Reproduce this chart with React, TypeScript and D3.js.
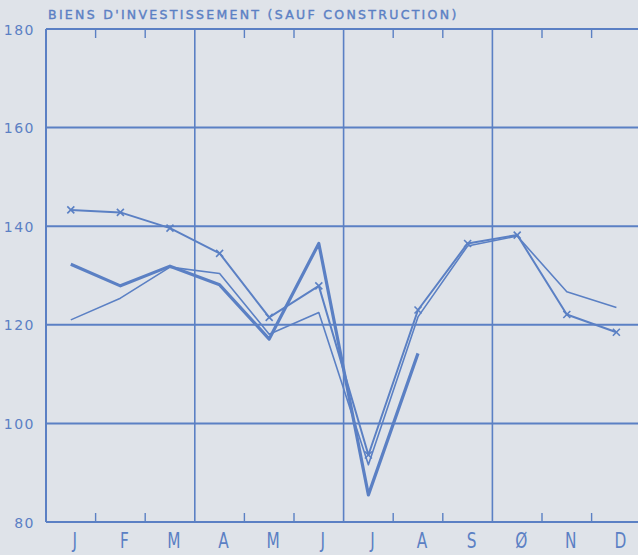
import React from "react";
import * as d3 from "d3";

const months = ["J", "F", "M", "A", "M", "J", "J", "A", "S", "Ø", "N", "D"];
const yTicks = [80, 100, 120, 140, 160, 180];
const seriesCross = [143.3, 142.8, 139.6, 134.5, 121.5, 127.9, 93.6, 123, 136.5, 138.2, 122.1, 118.5];
const seriesThick = [132.3, 127.9, 131.9, 128.1, 117.1, 136.5, 85.5, 114.2];
const seriesThin = [121, 125.4, 131.7, 130.4, 118.1, 122.5, 91.6, 121.6, 136, 138, 126.7, 123.5];
const title = "BIENS D'INVESTISSEMENT (SAUF CONSTRUCTION)";

const W = 638;
const H = 555;
const left = 46;
const top = 29;
const bottom = 522;
const monthW = 49.6;
const color = "#5b80c4";

export default function App() {
  const x = d3.scaleLinear().domain([0, 12]).range([left, left + 12 * monthW]);
  const y = d3.scaleLinear().domain([80, 180]).range([bottom, top]);
  const line = d3
    .line<number>()
    .x((_, i) => x(i + 0.5))
    .y((d) => y(d));

  const boundaries = d3.range(1, 12);
  const font = "'DejaVu Sans', sans-serif";

  return (
    <svg
      width={W}
      height={H}
      style={{ position: "absolute", left: 0, top: 0, background: "#dfe3e9" }}
    >
      <rect width={W} height={H} fill="#dfe3e9" />
      <text
        x={48}
        y={19}
        fill={color}
        stroke={color}
        strokeWidth={0.4}
        fontFamily={font}
        fontSize={12.5}
        letterSpacing={2.3}
      >
        {title}
      </text>
      {/* horizontal grid */}
      {yTicks.map((t) => (
        <line key={t} x1={left} x2={W} y1={y(t)} y2={y(t)} stroke={color} strokeWidth={2} />
      ))}
      {/* left axis */}
      <line x1={left} x2={left} y1={top} y2={bottom} stroke={color} strokeWidth={2} />
      {/* vertical quarter lines and ticks */}
      {boundaries.map((b) =>
        b % 3 === 0 ? (
          <line key={b} x1={x(b)} x2={x(b)} y1={top} y2={bottom} stroke={color} strokeWidth={1.6} />
        ) : (
          <g key={b}>
            <line x1={x(b)} x2={x(b)} y1={top} y2={top + 9} stroke={color} strokeWidth={1.4} />
            <line x1={x(b)} x2={x(b)} y1={bottom} y2={bottom - 9} stroke={color} strokeWidth={1.4} />
          </g>
        )
      )}
      {/* y labels */}
      {yTicks.map((t) => (
        <text
          key={t}
          x={35}
          y={y(t) + 5.5}
          textAnchor="end"
          fill={color}
          fontFamily={font}
          fontSize={14}
          letterSpacing={1.5}
        >
          {t}
        </text>
      ))}
      {/* month labels */}
      {months.map((m, i) => {
        const cx = x(i + 0.5) + 4;
        return (
          <text
            key={i}
            x={cx}
            y={548}
            textAnchor="middle"
            fill={color}
            fontFamily={font}
            fontSize={20.5}
            transform={`translate(${cx},0) scale(0.75,1) translate(${-cx},0)`}
          >
            {m}
          </text>
        );
      })}
      {/* series */}
      <path d={line(seriesThin) || ""} fill="none" stroke={color} strokeWidth={1.6} strokeLinejoin="round" />
      <path d={line(seriesThick) || ""} fill="none" stroke={color} strokeWidth={3.2} strokeLinejoin="round" />
      <path d={line(seriesCross) || ""} fill="none" stroke={color} strokeWidth={2} strokeLinejoin="round" />
      {seriesCross.map((v, i) => {
        const cx = x(i + 0.5);
        const cy = y(v);
        const s = 3.5;
        return (
          <g key={i} stroke={color} strokeWidth={1.6}>
            <line x1={cx - s} x2={cx + s} y1={cy - s} y2={cy + s} />
            <line x1={cx - s} x2={cx + s} y1={cy + s} y2={cy - s} />
          </g>
        );
      })}
    </svg>
  );
}
